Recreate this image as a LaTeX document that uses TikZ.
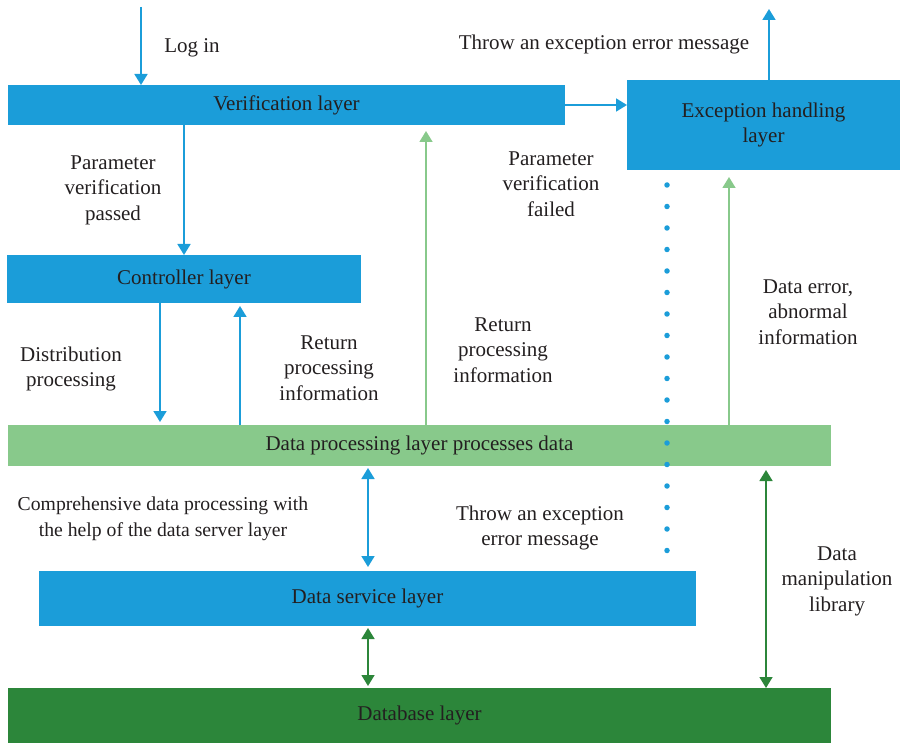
\documentclass[tikz,border=0pt]{standalone}
\usepackage{fontspec}
\setmainfont{Liberation Serif}
\usetikzlibrary{arrows.meta}
\definecolor{cblue}{HTML}{1B9DD9}
\definecolor{lgreen}{HTML}{88C98B}
\definecolor{dgreen}{HTML}{2C863A}
\definecolor{ink}{HTML}{231F20}
\tikzset{
  blk/.style={rectangle, inner sep=0pt, outer sep=0pt, text=ink, align=center},
  bluebox/.style={blk, fill=cblue},
  lgbox/.style={blk, fill=lgreen},
  dgbox/.style={blk, fill=dgreen},
  lbl/.style={inner sep=0pt, text=ink, align=center},
  tiphead/.tip={Triangle[width=13pt,length=11pt]},
  barrow/.style={cblue, line width=1.8pt, -tiphead},
  bdouble/.style={cblue, line width=1.8pt, tiphead-tiphead},
  lgarrow/.style={lgreen, line width=1.6pt, -tiphead},
  dgdouble/.style={dgreen, line width=1.6pt, tiphead-tiphead},
}
\begin{document}
\begin{tikzpicture}[x=1pt, y=-1pt, font=\fontsize{21}{25.5}\selectfont]
\useasboundingbox (0,0) rectangle (900,743);

% layers
\node[bluebox, minimum width=557pt, minimum height=40pt] (ver) at (286.5,105) {Verification layer};
\node[bluebox, minimum width=273pt, minimum height=90pt] (exc) at (763.5,125) {Exception handling\\layer};
\node[bluebox, minimum width=354pt, minimum height=48pt] (ctl) at (184,279) {Controller layer};
\node[lgbox, minimum width=823pt, minimum height=41pt] (dp) at (419.5,445.5) {Data processing layer processes data};
\node[bluebox, minimum width=657pt, minimum height=55pt] (ds) at (367.5,598.5) {Data service layer};
\node[dgbox, minimum width=823pt, minimum height=55pt] (db) at (419.5,715.5) {Database layer};

% free ends
\coordinate (login) at (141,7);
\coordinate (thrown) at (769,9);
\coordinate (dtop) at (667,185);
\coordinate (dbot) at (667,550.5);

% connectors (yshift acts on the page, so positive moves up)
\draw[barrow] (login) -- (login |- ver.north);
\draw[barrow] (184,0 |- ver.south) -- (184,0 |- ctl.north);
\draw[barrow] (ver.east) -- (exc.west |- ver.east);
\draw[barrow] (thrown |- exc.north) -- (thrown);
\draw[barrow] (160,0 |- ctl.south) -- ([yshift=3pt]160,0 |- dp.north);
\draw[barrow] (240,0 |- dp.north) -- ([yshift=-3pt]240,0 |- ctl.south);
\draw[lgarrow] (426,0 |- dp.north) -- ([yshift=-6pt]426,0 |- ver.south);
\draw[lgarrow] (729,0 |- dp.north) -- ([yshift=-7pt]729,0 |- exc.south);
\draw[bdouble] ([yshift=-2pt]368,0 |- dp.south) -- ([yshift=4pt]368,0 |- ds.north);
\draw[dgdouble] ([yshift=-2pt]368,0 |- ds.south) -- ([yshift=2pt]368,0 |- db.north);
\draw[dgdouble] ([yshift=-4pt]766,0 |- dp.south) -- (766,0 |- db.north);
\draw[cblue, line width=5.5pt, line cap=round, dash pattern=on 0pt off 21.5pt] (dtop) -- (dbot);

% labels
\node[lbl] (tlogin) at (192,48) {Log in};
\node[lbl] (tpass) at (113,190) {Parameter\\verification\\passed};
\node[lbl] (tthrow1) at (604,44) {Throw an exception error message};
\node[lbl] (tfail) at (551,184) {Parameter\\verification\\failed};
\node[lbl] (tdist) at (71,369) {Distribution\\processing};
\node[lbl] (tret1) at (329,368) {Return\\processing\\information};
\node[lbl] (tret2) at (503,350) {Return\\processing\\information};
\node[lbl] (terr) at (808,312) {Data error,\\abnormal\\information};
\node[lbl, font=\fontsize{19.7}{26.5}\selectfont] (tcomp) at (163,519) {Comprehensive data processing with\\the help of the data server layer};
\node[lbl] (tthrow2) at (540,528) {Throw an exception\\error message};
\node[lbl] (tlib) at (837,581) {Data\\manipulation\\library};
\end{tikzpicture}
\end{document}
